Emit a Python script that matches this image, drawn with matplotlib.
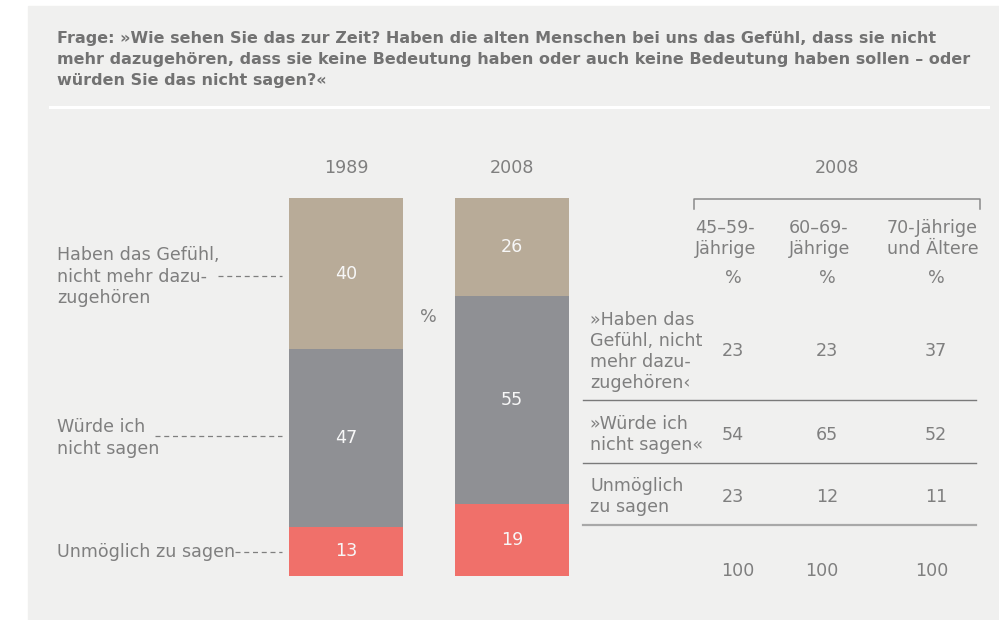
import matplotlib
matplotlib.use('Agg')
import matplotlib.pyplot as plt
from matplotlib.patches import Rectangle

plt.rcParams['font.family'] = ['DejaVu Sans']

# data
years = ['1989', '2008']
answers = ['Haben das Gefühl, nicht mehr dazuzugehören', 'Würde ich nicht sagen', 'Unmöglich zu sagen']
share_1989 = [40, 47, 13]
share_2008 = [26, 55, 19]
age_groups = [['45–59-', 'Jährige'], ['60–69-', 'Jährige'], ['70-Jährige', 'und Ältere']]
table_rows = [['»Haben das', 'Gefühl, nicht', 'mehr dazu-', 'zugehören‹'],
              ['»Würde ich', 'nicht sagen«'],
              ['Unmöglich', 'zu sagen']]
table_values = [[23, 23, 37], [54, 65, 52], [23, 12, 11]]
totals = [100, 100, 100]

seg_colors = ['#b8ab98', '#8f9094', '#f0706a']
txt = '#7f7f7f'
FS = 12.6
W, H = 999, 620

fig = plt.figure(figsize=(W / 100, H / 100), dpi=100, facecolor='white')
ov = fig.add_axes([0, 0, 1, 1], zorder=0)
ov.set_xlim(0, W)
ov.set_ylim(H, 0)
ov.axis('off')

# panel and title
ov.add_patch(Rectangle((28, 6), W - 28, H - 6, color='#f0f0ef', zorder=0))
title = ['Frage: »Wie sehen Sie das zur Zeit? Haben die alten Menschen bei uns das Gefühl, dass sie nicht',
         'mehr dazugehören, dass sie keine Bedeutung haben oder auch keine Bedeutung haben sollen – oder',
         'würden Sie das nicht sagen?«']
for i, line in enumerate(title):
    ov.text(57, 43 + i * 21, line, fontsize=11.5, fontweight='bold', color='#727272', va='baseline')
ov.plot([50, 988], [107, 107], color='white', lw=2.2)


def lines_at(x, y0, lines, step=21.5, ha='left', **kw):
    for i, s in enumerate(lines):
        ov.text(x, y0 + i * step, s, ha=ha, va='baseline', fontsize=FS, color=txt, **kw)


# stacked bars
bx = fig.add_axes([289 / W, 1 - 576 / H, (569 - 289) / W, (576 - 198) / H], zorder=1)
bw = 114 / 166
bx.set_xlim(-bw / 2, 1 + bw / 2)
bx.set_ylim(0, 100)
bx.axis('off')
for xi, vals in enumerate([share_1989, share_2008]):
    top = 100
    for v, c in zip(vals, seg_colors):
        bx.bar(xi, v, bottom=top - v, width=bw, color=c, linewidth=0)
        bx.text(xi, top - v / 2, str(v), ha='center', va='center', fontsize=FS, color='#f7f7f7')
        top -= v

for x, y in zip([346, 512], years):
    ov.text(x, 173, y, ha='center', va='baseline', fontsize=FS, color=txt)
ov.text(428, 322, '%', ha='center', va='baseline', fontsize=FS, color=txt)

# left labels with leaders
lines_at(57, 260, ['Haben das Gefühl,', 'nicht mehr dazu-', 'zugehören'])
lines_at(57, 432, ['Würde ich', 'nicht sagen'])
lines_at(57, 557, ['Unmöglich zu sagen'])
for x0, y in [(218, 276), (155, 436), (235, 552)]:
    ov.plot([x0, 282], [y, y], color=txt, lw=0.9, linestyle=(0, (4, 3)))

# right table
ov.text(837, 173, '2008', ha='center', va='baseline', fontsize=FS, color=txt)
ov.plot([694, 694, 980, 980], [209, 199, 199, 209], color='#8a8a8a', lw=1.1)
col_x = [733, 827, 936]
for x, hdr in zip([695, 789, 887], age_groups):
    lines_at(x, 233, hdr, step=21)
for x in col_x:
    ov.text(x, 283, '%', ha='center', va='baseline', fontsize=FS, color=txt)

row_y0 = [325, 429, 491]
val_y = [356, 440, 502]
rule_y = [400, 463]
for lbl, y0, vals, vy in zip(table_rows, row_y0, table_values, val_y):
    lines_at(590, y0, lbl, step=21)
    for x, v in zip(col_x, vals):
        ov.text(x, vy, str(v), ha='center', va='baseline', fontsize=FS, color=txt)
for y in rule_y:
    ov.plot([583, 976], [y, y], color='#7a7a7a', lw=1)
ov.plot([583, 976], [525, 525], color='#a8a8a8', lw=1.6)
for x, t in zip([738, 822, 932], totals):
    ov.text(x, 576, str(t), ha='center', va='baseline', fontsize=FS, color=txt)

fig.savefig('out.png', dpi=100, facecolor='white')
